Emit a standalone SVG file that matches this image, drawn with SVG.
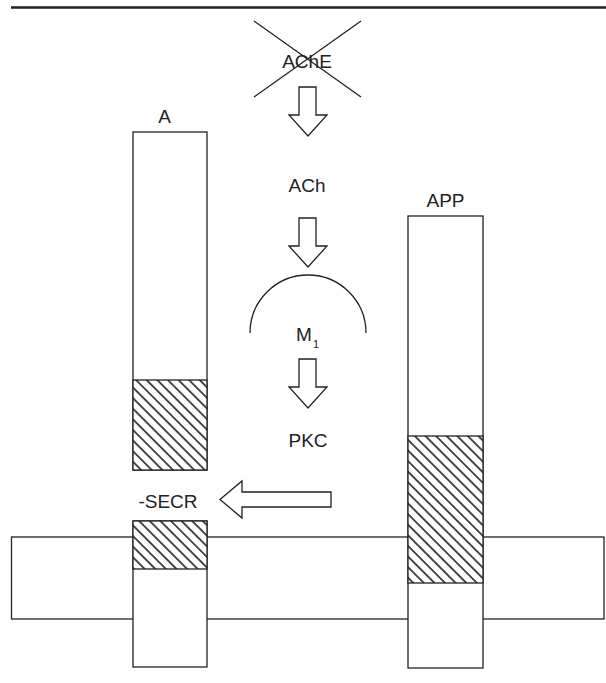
<svg xmlns="http://www.w3.org/2000/svg" width="606" height="683" viewBox="0 0 606 683">
<style>
.box{fill:#fff;stroke:#222;stroke-width:1.3}
.hatch{fill:url(#hatch);stroke:#222;stroke-width:1.3}
.ln{fill:none;stroke:#222;stroke-width:1.3}
.arr{fill:#fff;stroke:#222;stroke-width:1.3;stroke-linejoin:miter}
.t{font-family:"Liberation Sans",Arial,sans-serif;font-size:19px;fill:#222}
.c{text-anchor:middle}
</style>
<defs>
<pattern id="hatch" patternUnits="userSpaceOnUse" width="7.5" height="7.5" patternTransform="rotate(-45)">
<rect width="7.5" height="7.5" fill="#fff"/>
<line x1="0" y1="-1" x2="0" y2="8.5" stroke="#222" stroke-width="1.6"/>
<line x1="7.5" y1="-1" x2="7.5" y2="8.5" stroke="#222" stroke-width="1.6"/>
</pattern>
<path id="darrow" d="M299 0 H316 V28 H327 L308 49 L289 28 H299 Z"/>
</defs>
<rect width="606" height="683" fill="#fff"/>
<line x1="11" y1="7.5" x2="606" y2="7.5" stroke="#222" stroke-width="2.6"/>

<g id="bar"><rect class="box" x="11.5" y="537" width="592.5" height="82"/></g>

<g id="colA">
<rect class="box" x="133" y="132" width="74" height="338"/>
<rect class="hatch" x="133" y="380" width="74" height="90"/>
<text class="t c" x="164.5" y="123">A</text>
</g>

<g id="colSECR">
<rect class="box" x="133" y="521" width="74" height="146"/>
<rect class="hatch" x="133" y="521" width="74" height="48"/>
<text class="t c" x="168" y="508">-SECR</text>
</g>

<g id="colAPP">
<rect class="box" x="408" y="216" width="75" height="452"/>
<rect class="hatch" x="408" y="436" width="75" height="147"/>
<text class="t c" x="445.5" y="207">APP</text>
</g>

<g id="AChE">
<text class="t c" x="307" y="68">AChE</text>
<line class="ln" x1="254" y1="21" x2="361" y2="97"/>
<line class="ln" x1="254" y1="97" x2="361" y2="21"/>
</g>

<g id="ACh"><text class="t c" x="307" y="192">ACh</text></g>

<g id="M1">
<path class="ln" d="M250 333 A58 58 0 0 1 366 333"/>
<text class="t" x="296" y="341">M</text>
<text class="t" x="313" y="348" style="font-size:11px">1</text>
</g>

<g id="PKC"><text class="t c" x="308" y="447">PKC</text></g>

<g id="connectors">
<use href="#darrow" class="arr" transform="translate(0,87)"/>
<use href="#darrow" class="arr" transform="translate(0,218)"/>
<use href="#darrow" class="arr" transform="translate(0,359)"/>
<polygon class="arr" points="331,492 242,492 242,481 220,499.5 242,518 242,507 331,507"/>
</g>
</svg>
